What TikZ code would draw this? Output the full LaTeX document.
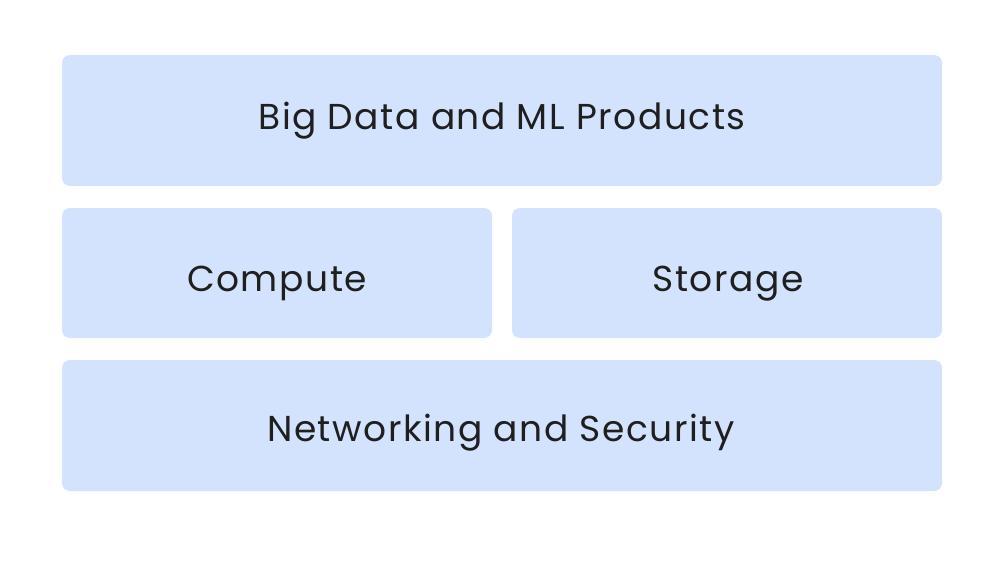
\documentclass[tikz,border=0pt]{standalone}
\usepackage{fontspec}
\setmainfont{Poppins}[LetterSpace=4.3]
\definecolor{boxfill}{HTML}{D3E3FD}
\definecolor{txt}{HTML}{1F1F1F}
\begin{document}
\begin{tikzpicture}[x=1pt,y=1pt,
  layer/.style={fill=boxfill,rounded corners=8pt,draw=none},
  lbl/.style={anchor=base,text=txt,font=\fontsize{36}{42}\selectfont,inner sep=0pt}]
\useasboundingbox (0,0) rectangle (993,566);
\fill[white] (0,0) rectangle (993,566);
\path[layer] (62,380) rectangle (942,511);
\path[layer] (62,228) rectangle (492,358);
\path[layer] (512,228) rectangle (942,358);
\path[layer] (62,75) rectangle (942,206);
\node[lbl] (t1) at (502,436.7) {Big Data and ML Products};
\node[lbl] (t2) at (277,274.3) {Compute};
\node[lbl] (t3) at (728,274.3) {Storage};
\node[lbl] (t4) at (501,124.3) {Networking and Security};
\end{tikzpicture}
\end{document}
